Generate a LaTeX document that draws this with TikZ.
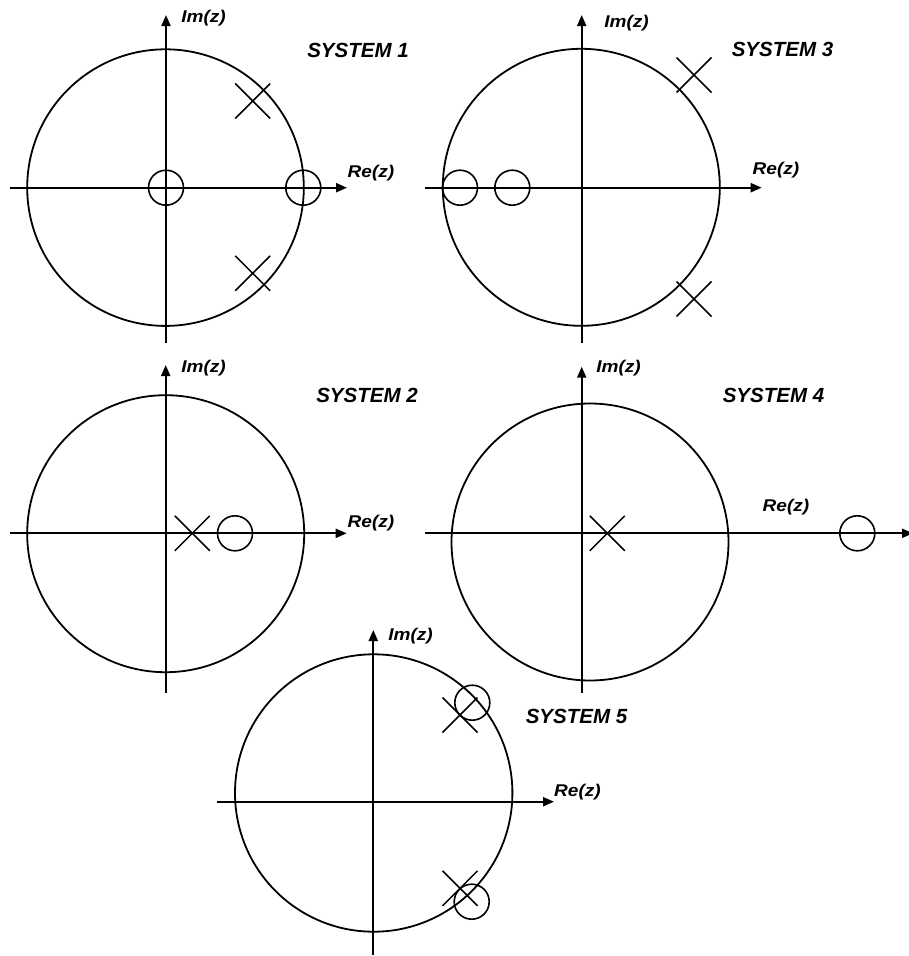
\documentclass[tikz,border=0pt]{standalone}
\usepackage{fontspec}
\setmainfont{Liberation Sans}
\usetikzlibrary{arrows.meta}
\begin{document}
\begin{tikzpicture}[x=1pt,y=-1pt,
  axis/.style={line width=2.1pt,-{Triangle[length=11pt,width=9pt]}},
  unit/.style={line width=1.8pt},
  zero/.style={line width=1.6pt},
  polex/.style={line width=1.5pt},
  axlabel/.style={inner sep=0pt,font=\fontsize{17}{17}\selectfont\bfseries\itshape},
  systitle/.style={inner sep=0pt,font=\fontsize{20.5}{20.5}\selectfont\bfseries\itshape},
  pole/.pic={\draw[polex] (-17.5,-17.5) -- (17.5,17.5) (-17.5,17.5) -- (17.5,-17.5);}
]
\useasboundingbox (0,0) rectangle (909,956);
% ---------- SYSTEM 1 ----------
\draw[unit] (165.5,187.6) circle[radius=138.3];
\draw[axis] (10,187.7) -- (347,187.7);
\draw[axis] (166,343) -- (166,15);
\draw[zero] (166,187.7) circle[radius=17.5];
\draw[zero] (303.3,187.7) circle[radius=17.5];
\pic at (252.7,101) {pole};
\pic at (252.7,273.3) {pole};
\node[axlabel] (im1) at (203.5,18) {\scalebox{1.12}[1]{Im(z)}};
\node[axlabel] (re1) at (371,173) {\scalebox{1.12}[1]{Re(z)}};
\node[systitle] (s1) at (358,50) {SYSTEM 1};
% ---------- SYSTEM 3 ----------
\draw[unit] (581.3,187.3) circle[radius=138.5];
\draw[axis] (425,187.7) -- (761.7,187.7);
\draw[axis] (581.7,343) -- (581.7,15);
\draw[zero] (460,187.7) circle[radius=17.5];
\draw[zero] (512.3,187.7) circle[radius=17.5];
\pic at (694,75) {pole};
\pic at (694,299) {pole};
\node[axlabel] (im3) at (626.5,23) {\scalebox{1.12}[1]{Im(z)}};
\node[axlabel] (re3) at (776,170) {\scalebox{1.12}[1]{Re(z)}};
\node[systitle] (s3) at (782.5,49) {SYSTEM 3};
% ---------- SYSTEM 2 ----------
\draw[unit] (165.7,533.7) circle[radius=138.5];
\draw[axis] (10,533.3) -- (346.7,533.3);
\draw[axis] (165.7,693) -- (165.7,365);
\pic at (192.3,533.3) {pole};
\draw[zero] (235,533.3) circle[radius=17.5];
\node[axlabel] (im2) at (203.5,368) {\scalebox{1.12}[1]{Im(z)}};
\node[axlabel] (re2) at (371,523) {\scalebox{1.12}[1]{Re(z)}};
\node[systitle] (s2) at (367,395) {SYSTEM 2};
% ---------- SYSTEM 4 ----------
\draw[unit] (590,542) circle[radius=138.5];
\draw[axis] (425,533.3) -- (913,533.3);
\draw[axis] (581.7,693) -- (581.7,366.7);
\pic at (607.3,533.3) {pole};
\draw[zero] (857.3,533.3) circle[radius=17.5];
\node[axlabel] (im4) at (618.5,368) {\scalebox{1.12}[1]{Im(z)}};
\node[axlabel] (re4) at (786,507) {\scalebox{1.12}[1]{Re(z)}};
\node[systitle] (s4) at (773.5,395) {SYSTEM 4};
% ---------- SYSTEM 5 ----------
\draw[unit] (373.7,793) circle[radius=138.7];
\draw[axis] (217.3,801.7) -- (554,801.7);
\draw[axis] (373.3,955) -- (373.3,630);
\pic at (460,715) {pole};
\pic at (460,888.3) {pole};
\draw[zero] (472.3,702.7) circle[radius=17.5];
\draw[zero] (471.7,901.7) circle[radius=17.5];
\node[axlabel] (im5) at (410.5,636) {\scalebox{1.12}[1]{Im(z)}};
\node[axlabel] (re5) at (577.5,792) {\scalebox{1.12}[1]{Re(z)}};
\node[systitle] (s5) at (576.5,716) {SYSTEM 5};
\end{tikzpicture}
\end{document}
